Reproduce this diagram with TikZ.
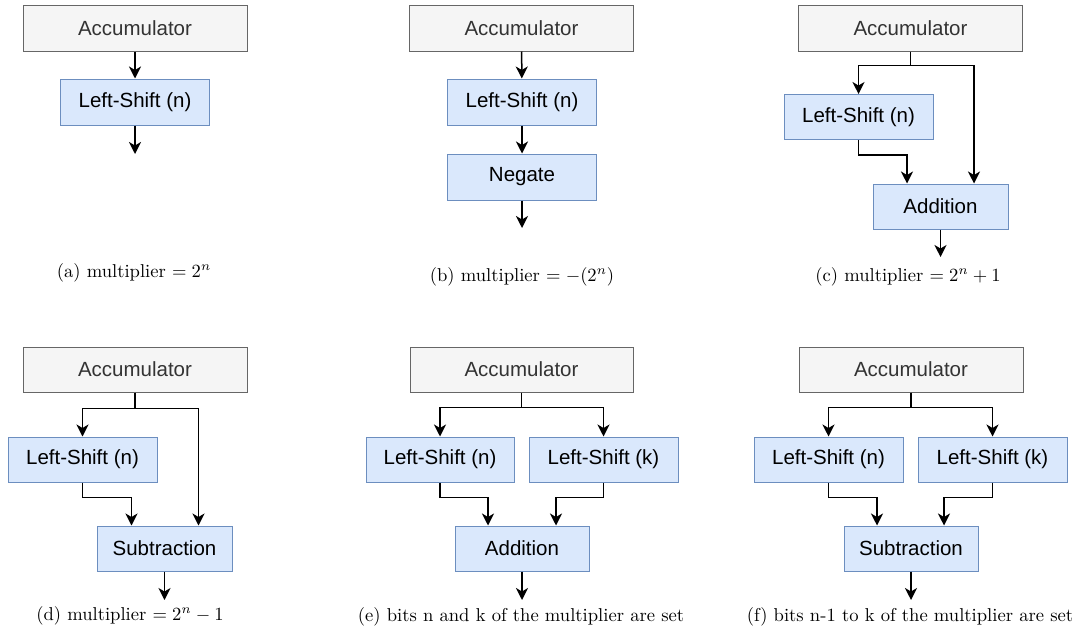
\documentclass[tikz,border=0pt]{standalone}
\usepackage{fontspec}
\newfontfamily\boxfont{Liberation Sans}
\usetikzlibrary{arrows.meta}
\definecolor{accfill}{HTML}{F5F5F5}
\definecolor{accline}{HTML}{666666}
\definecolor{acctext}{HTML}{333333}
\definecolor{opfill}{HTML}{DAE8FC}
\definecolor{opline}{HTML}{6C8EBF}
\tikzset{
  accbox/.style={draw=accline, fill=accfill, text=acctext, line width=1pt,
    minimum width=224pt, minimum height=46pt, inner sep=0pt,
    font=\boxfont\fontsize{20.5}{24}\selectfont},
  opbox/.style={draw=opline, fill=opfill, text=black, line width=1pt,
    minimum width=149pt, minimum height=46pt, inner sep=0pt,
    font=\boxfont\fontsize{20.5}{24}\selectfont},
  flow/.style={draw=black, line width=1.5pt,
    -{Stealth[length=12pt,width=12pt,inset=3.5pt]}},
  % captions are set at 10pt and enlarged
  caption/.style={inner sep=0pt, font=\fontsize{10}{12}\selectfont,
    scale=1.86, transform shape}
}
\begin{document}
\begin{tikzpicture}[x=1pt,y=-1pt]
\path[use as bounding box] (0,0) rectangle (1083,637);

% (a) single shift
\node[accbox] (a-acc) at (135,28) {Accumulator};
\node[opbox] (a-ls) at (135,102) {Left-Shift (n)};
\coordinate (a-out) at (135,154);
\draw[flow] (a-acc) -- (a-ls);
\draw[flow] (a-ls) -- (a-out);
\node[caption] (a-cap) at (134,273) {(a) multiplier $= 2^n$};

% (b) shift then negate
\node[accbox] (b-acc) at (521.5,28) {Accumulator};
\node[opbox] (b-ls) at (522,102) {Left-Shift (n)};
\node[opbox] (b-neg) at (522,177) {Negate};
\coordinate (b-out) at (522,228);
\draw[flow] (b-acc) -- (b-ls);
\draw[flow] (b-ls) -- (b-neg);
\draw[flow] (b-neg) -- (b-out);
\node[caption] (b-cap) at (522,277) {(b) multiplier $= -(2^n)$};

% (c) shift plus original
\node[accbox] (c-acc) at (910.5,28) {Accumulator};
\node[opbox, minimum height=45pt] (c-ls) at (858.5,117) {Left-Shift (n)};
\node[opbox, minimum width=135pt, minimum height=45pt] (c-add) at (940.5,206.5) {Addition};
\coordinate (c-out) at (940.5,257);
\draw[flow] (c-acc.south) -- ++(0,14) -| (c-ls.north);
\draw[flow] (c-acc.south) -- ++(0,14) -| ([xshift=33.5pt]c-add.north);
\draw[flow] (c-ls.south) -- ++(0,15) -| ([xshift=-33.5pt]c-add.north);
\draw[flow] (c-add) -- (c-out);
\node[caption] (c-cap) at (908,277) {(c) multiplier $= 2^n + 1$};

% (d) shift minus original
\node[accbox, minimum height=45pt] (d-acc) at (135,369.5) {Accumulator};
\node[opbox, minimum height=45pt] (d-ls) at (82.5,459.5) {Left-Shift (n)};
\node[opbox, minimum width=135pt, minimum height=45pt] (d-sub) at (164.5,548.5) {Subtraction};
\coordinate (d-out) at (164.5,600);
\draw[flow] (d-acc.south) -- ++(0,16) -| (d-ls.north);
\draw[flow] (d-acc.south) -- ++(0,16) -| ([xshift=34pt]d-sub.north);
\draw[flow] (d-ls.south) -- ++(0,15) -| ([xshift=-33pt]d-sub.north);
\draw[flow] (d-sub) -- (d-out);
\node[caption] (d-cap) at (130,616) {(d) multiplier $= 2^n - 1$};

% (e) two shifts added
\node[accbox, minimum width=223pt, minimum height=45pt] (e-acc) at (521.5,369.5) {Accumulator};
\node[opbox, minimum width=148pt, minimum height=45pt] (e-lsn) at (440,459.5) {Left-Shift (n)};
\node[opbox, minimum height=45pt] (e-lsk) at (603.5,459.5) {Left-Shift (k)};
\node[opbox, minimum width=134pt, minimum height=45pt] (e-add) at (522,548.5) {Addition};
\coordinate (e-out) at (522,600);
\draw[flow] (e-acc.south) -- ++(0,15) -| (e-lsn.north);
\draw[flow] (e-acc.south) -- ++(0,15) -| (e-lsk.north);
\draw[flow] (e-lsn.south) -- ++(0,15) -| ([xshift=-34pt]e-add.north);
\draw[flow] (e-lsk.south) -- ++(0,15) -| ([xshift=34pt]e-add.north);
\draw[flow] (e-add) -- (e-out);
\node[caption] (e-cap) at (521,617) {(e) bits n and k of the multiplier are set};

% (f) two shifts subtracted
\node[accbox, minimum height=45pt] (f-acc) at (911,369.5) {Accumulator};
\node[opbox, minimum height=45pt] (f-lsn) at (828.5,459.5) {Left-Shift (n)};
\node[opbox, minimum height=45pt] (f-lsk) at (992.5,459.5) {Left-Shift (k)};
\node[opbox, minimum width=134pt, minimum height=45pt] (f-sub) at (911,548.5) {Subtraction};
\coordinate (f-out) at (911,600);
\draw[flow] (f-acc.south) -- ++(0,15) -| (f-lsn.north);
\draw[flow] (f-acc.south) -- ++(0,15) -| (f-lsk.north);
\draw[flow] (f-lsn.south) -- ++(0,15) -| ([xshift=-34pt]f-sub.north);
\draw[flow] (f-lsk.south) -- ++(0,15) -| ([xshift=33pt]f-sub.north);
\draw[flow] (f-sub) -- (f-out);
\node[caption] (f-cap) at (910,617) {(f) bits n-1 to k of the multiplier are set};
\end{tikzpicture}
\end{document}
